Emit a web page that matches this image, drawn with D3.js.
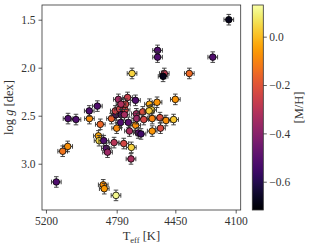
<!DOCTYPE html>
<html><head><meta charset="utf-8">
<script src="https://cdn.jsdelivr.net/npm/d3@7"></script>
<style>body{margin:0;background:#fff}svg{display:block}text{font-family:"Liberation Serif","DejaVu Serif",serif;fill:#333}</style>
</head><body><div id="chart"></div>
<script>
// Data
const teff = [4140,4553,4553,4233,4514,4521,4369,4701,4450,
  5072,5026,4948,4949,4902,4885,5103,5074,5140,4868,4862,4794,
  4896,4892,4865,4850,4843,4805,4749,4705,4707,
  4780,4727,4681,4820,4794,4798,4773,4741,4739,4765,4763,4745,4790,4767,4722,4716,4680,4676,4674,4665,
  4639,4633,4600,4556,4587,4602,4584,4539,4504,4460,4584,4536,4649];
const logg = [1.50,1.82,1.89,1.89,2.06,2.09,2.06,2.06,2.33,
  2.53,2.54,2.53,2.45,2.40,2.59,2.87,2.82,3.19,3.22,3.26,3.33,
  2.71,2.76,2.76,2.84,2.88,2.78,2.79,2.83,2.95,
  2.33,2.31,2.34,2.53,2.49,2.45,2.43,2.44,2.38,2.38,2.49,2.49,2.63,2.57,2.57,2.66,2.60,2.48,2.53,2.68,
  2.46,2.54,2.38,2.36,2.44,2.45,2.53,2.52,2.55,2.54,2.66,2.63,2.69];
const mh = [-0.68,-0.52,-0.52,-0.52,-0.28,-0.68,-0.15,0.04,-0.07,
  -0.52,-0.52,-0.08,-0.52,-0.52,-0.16,-0.13,-0.08,-0.52,-0.08,-0.06,0.11,
  -0.03,0.05,-0.52,-0.50,-0.36,-0.30,-0.24,0.04,-0.33,
  -0.35,-0.26,-0.52,-0.17,-0.50,-0.25,-0.25,-0.25,-0.24,-0.32,-0.50,-0.34,-0.09,-0.52,-0.50,-0.33,-0.08,-0.34,-0.36,-0.50,
  -0.22,-0.24,-0.03,-0.07,0.04,0.03,-0.10,-0.22,-0.08,0.02,-0.07,-0.23,-0.55];
const errTeff = 28;
const errLogg = 0.055;
const xTicks = [5200,4790,4450,4100];
const yTicks = [1.5,2.0,2.5,3.0];
const cTicks = [0.0,-0.2,-0.4,-0.6];
const mhRange = [-0.717,0.131];

const W=316,H=249;
const L=42,R=240.7,T=5,B=210;
const svg=d3.select("#chart").append("svg").attr("width",W).attr("height",H);
const x=d3.scaleLinear().domain([5223,4071]).range([L,R]);
const y=d3.scaleLinear().domain([1.347,3.482]).range([T,B]);
const cnorm=d3.scaleLinear().domain(mhRange).range([0,1]);
const col=v=>d3.interpolateInferno(Math.max(0,Math.min(1,cnorm(v))));
const fmt=v=>(v<0?"\u2212":"")+Math.abs(v).toFixed(1);

// axes
const xa=svg.append("g").attr("transform",`translate(0,${B})`)
  .call(d3.axisBottom(x).tickValues(xTicks).tickSize(3.5).tickPadding(3).tickFormat(d=>d));
const ya=svg.append("g").attr("transform",`translate(${L},0)`)
  .call(d3.axisLeft(y).tickValues(yTicks).tickSize(3.5).tickPadding(3).tickFormat(d=>d.toFixed(1)));
[xa,ya].forEach(a=>{a.select(".domain").remove();a.selectAll("line").attr("stroke","#333").attr("stroke-width",0.8);
  a.selectAll("text").attr("font-size",11.5).attr("fill","#333").style("font-family","Liberation Serif");});
svg.append("rect").attr("x",L).attr("y",T).attr("width",R-L).attr("height",B-T)
  .attr("fill","none").attr("stroke","#333").attr("stroke-width",0.8);

// points
const pts=teff.map((t,i)=>({t,g:logg[i],m:mh[i]}));
const g=svg.append("g");
pts.forEach(p=>{
  const cx=x(p.t),cy=y(p.g);
  const gg=g.append("g");
  const x0=x(p.t+errTeff),x1=x(p.t-errTeff),y0=y(p.g-errLogg),y1=y(p.g+errLogg);
  const st="#333";
  gg.append("line").attr("x1",x0).attr("x2",x1).attr("y1",cy).attr("y2",cy).attr("stroke",st).attr("stroke-width",0.9);
  gg.append("line").attr("x1",cx).attr("x2",cx).attr("y1",y0).attr("y2",y1).attr("stroke",st).attr("stroke-width",0.9);
  [[x0,cy,0],[x1,cy,0],[cx,y0,1],[cx,y1,1]].forEach(([a,b,v])=>{
    if(v) gg.append("line").attr("x1",a-2.3).attr("x2",a+2.3).attr("y1",b).attr("y2",b).attr("stroke",st).attr("stroke-width",0.9);
    else gg.append("line").attr("x1",a).attr("x2",a).attr("y1",b-2.3).attr("y2",b+2.3).attr("stroke",st).attr("stroke-width",0.9);
  });
  gg.append("circle").attr("cx",cx).attr("cy",cy).attr("r",3.3).attr("fill",col(p.m)).attr("stroke","#000").attr("stroke-width",0.8);
});

// labels
const xl=svg.append("text").attr("x",(L+R)/2).attr("y",240).attr("text-anchor","middle").attr("font-size",12.5);
xl.append("tspan").text("T");
xl.append("tspan").text("eff").attr("font-size",8.5).attr("dy",2.5);
xl.append("tspan").text(" [K]").attr("dy",-2.5);
const yl=svg.append("text").attr("transform",`translate(13,${(T+B)/2}) rotate(-90)`).attr("text-anchor","middle").attr("font-size",12.5);
yl.append("tspan").text("log ");
yl.append("tspan").text("g").attr("font-style","italic");
yl.append("tspan").text(" [dex]");

// colorbar
const cbL=252.3,cbW=11;
const cy=d3.scaleLinear().domain([mhRange[1],mhRange[0]]).range([T,B]);
const defs=svg.append("defs");
const lg=defs.append("linearGradient").attr("id","cbg").attr("x1",0).attr("x2",0).attr("y1",1).attr("y2",0);
d3.range(0,1.0001,0.02).forEach(s=>lg.append("stop").attr("offset",s).attr("stop-color",d3.interpolateInferno(s)));
svg.append("rect").attr("x",cbL).attr("y",T).attr("width",cbW).attr("height",B-T).attr("fill","url(#cbg)")
  .attr("stroke","#333").attr("stroke-width",0.8);
const ca=svg.append("g").attr("transform",`translate(${cbL+cbW},0)`)
  .call(d3.axisRight(cy).tickValues(cTicks).tickSize(3.5).tickPadding(2.5).tickFormat(fmt));
ca.select(".domain").remove();
ca.selectAll("line").attr("stroke","#333").attr("stroke-width",0.8);
ca.selectAll("text").attr("font-size",11.5).attr("fill","#333").style("font-family","Liberation Serif");
svg.append("text").attr("transform",`translate(303,${(T+B)/2}) rotate(-90)`).attr("text-anchor","middle")
  .attr("font-size",12.5).text("[M/H]");
</script></body></html>
